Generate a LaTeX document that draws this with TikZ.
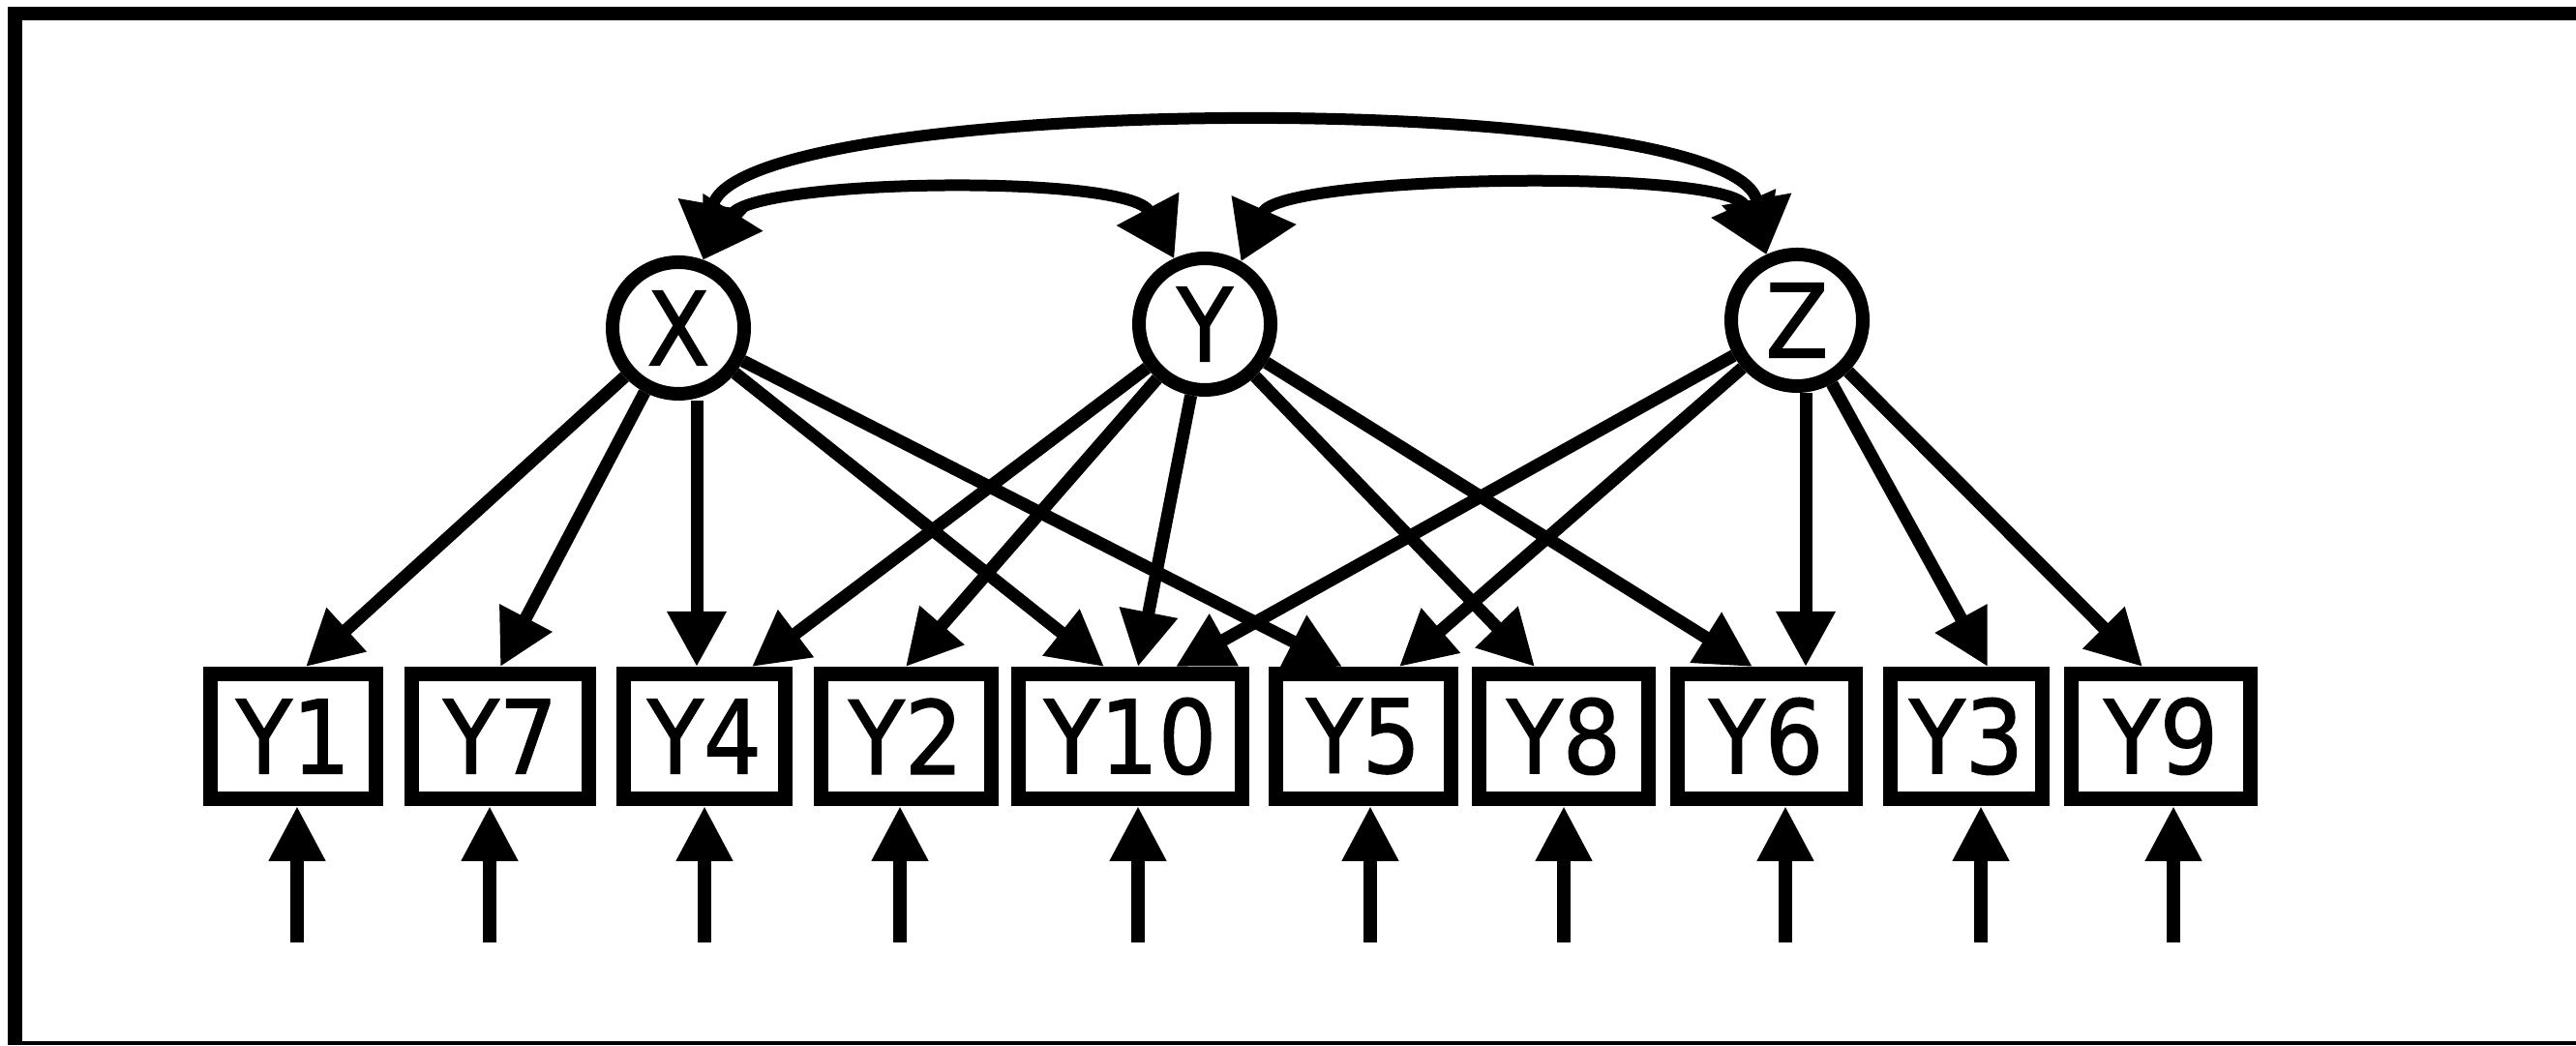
\documentclass[tikz,border=0pt]{standalone}
\usepackage{fontspec}
\setmainfont{DejaVu Sans}
\newfontfamily\labfont[FakeBold=1.2]{DejaVu Sans Condensed}
\usetikzlibrary{arrows.meta}

\begin{document}
\begin{tikzpicture}[
  lat/.style={circle, draw, line width=0.14cm, minimum size=1.36cm, inner sep=0pt, font=\labfont\fontsize{30}{32}\selectfont},
  obs/.style={rectangle, draw, line width=0.15cm, minimum height=1.29cm, inner sep=0.05cm, font=\labfont\fontsize{30}{32}\selectfont},
  load/.style={line width=0.13cm, -{Triangle[length=0.57cm,width=0.58cm]}},
  err/.style={line width=0.14cm, -{Triangle[length=0.57cm,width=0.55cm]}},
  cov/.style={line width=0.12cm, {Triangle[length=0.58cm,width=0.7cm]}-{Triangle[length=0.58cm,width=0.7cm]}}
]
  \fill[white] (0,0) rectangle (26.62,10.81);
  \useasboundingbox (0,0) rectangle (26.62,10.81);

  % Frame (open on the right)
  \draw[line width=0.14cm] (0.08,10.67) -- (26.62,10.67);
  \draw[line width=0.15cm] (0.155,10.74) -- (0.155,0.02);
  \draw[line width=0.04cm] (0.08,0.03) -- (26.62,0.03);

  % Factors
  \node[lat] (X) at (7.01,7.42) {X};
  \node[lat] (Y) at (12.45,7.46) {Y};
  \node[lat] (Z) at (18.57,7.50) {Z};

  % Indicators
  \node[obs, minimum width=1.71cm] (Y1)  at (3.03,3.20)  {Y1};
  \node[obs, minimum width=1.83cm] (Y7)  at (5.17,3.20)  {Y7};
  \node[obs, minimum width=1.67cm] (Y4)  at (7.28,3.20)  {Y4};
  \node[obs, minimum width=1.76cm] (Y2)  at (9.36,3.20)  {Y2};
  \node[obs, minimum width=2.31cm] (Y10) at (11.68,3.20) {Y10};
  \node[obs, minimum width=1.81cm] (Y5)  at (14.09,3.20) {Y5};
  \node[obs, minimum width=1.75cm] (Y8)  at (16.16,3.20) {Y8};
  \node[obs, minimum width=1.84cm] (Y6)  at (18.25,3.20) {Y6};
  \node[obs, minimum width=1.57cm] (Y3)  at (20.32,3.20) {Y3};
  \node[obs, minimum width=1.85cm] (Y9)  at (22.33,3.20) {Y9};

  % Loadings of X
  \coordinate (x4) at ([xshift=-0.08cm]Y4.north);
  \draw[load] (X) -- ([xshift=0.13cm]Y1.north);
  \draw[load] (X) -- (Y7.north);
  \draw[load] (x4 |- X.south) -- (x4);
  \draw[load] (X) -- ([xshift=-0.27cm]Y10.north);
  \draw[load] (X) -- ([xshift=-0.22cm]Y5.north);

  % Loadings of Y
  \draw[load] (Y) -- ([xshift=0.49cm]Y4.north);
  \draw[load] (Y) -- (Y2.north);
  \draw[load] (Y) -- ([xshift=0.08cm]Y10.north);
  \draw[load] (Y) -- ([xshift=-0.30cm]Y8.north);
  \draw[load] (Y) -- ([xshift=-0.14cm]Y6.north);

  % Loadings of Z
  \coordinate (z6) at ([xshift=0.41cm]Y6.north);
  \draw[load] (Z) -- ([xshift=0.47cm]Y10.north);
  \draw[load] (Z) -- ([xshift=0.37cm]Y5.north);
  \draw[load] (z6 |- Z.south) -- (z6);
  \draw[load] (Z) -- ([xshift=0.22cm]Y3.north);
  \draw[load] (Z) -- ([xshift=-0.19cm]Y9.north);

  % Error terms
  \foreach \v/\d in {Y1/0.04, Y7/-0.11, Y4/0, Y2/-0.06, Y10/0.08, Y5/0.07, Y8/0, Y6/0.20, Y3/0.15, Y9/0.13} {
    \coordinate (e\v) at ([xshift=\d cm, yshift=-1.41cm]\v.south);
    \draw[err] (e\v) -- (e\v |- \v.south);
  }

  % Covariances
  \draw[cov] (X.70) to[out=80, in=100, looseness=0.41] (Z.115);
  \draw[cov] (X.70) to[out=58, in=118, looseness=0.52] (Y.115);
  \draw[cov] (Y.60) to[out=66, in=114, looseness=0.46] (Z.115);
\end{tikzpicture}
\end{document}
